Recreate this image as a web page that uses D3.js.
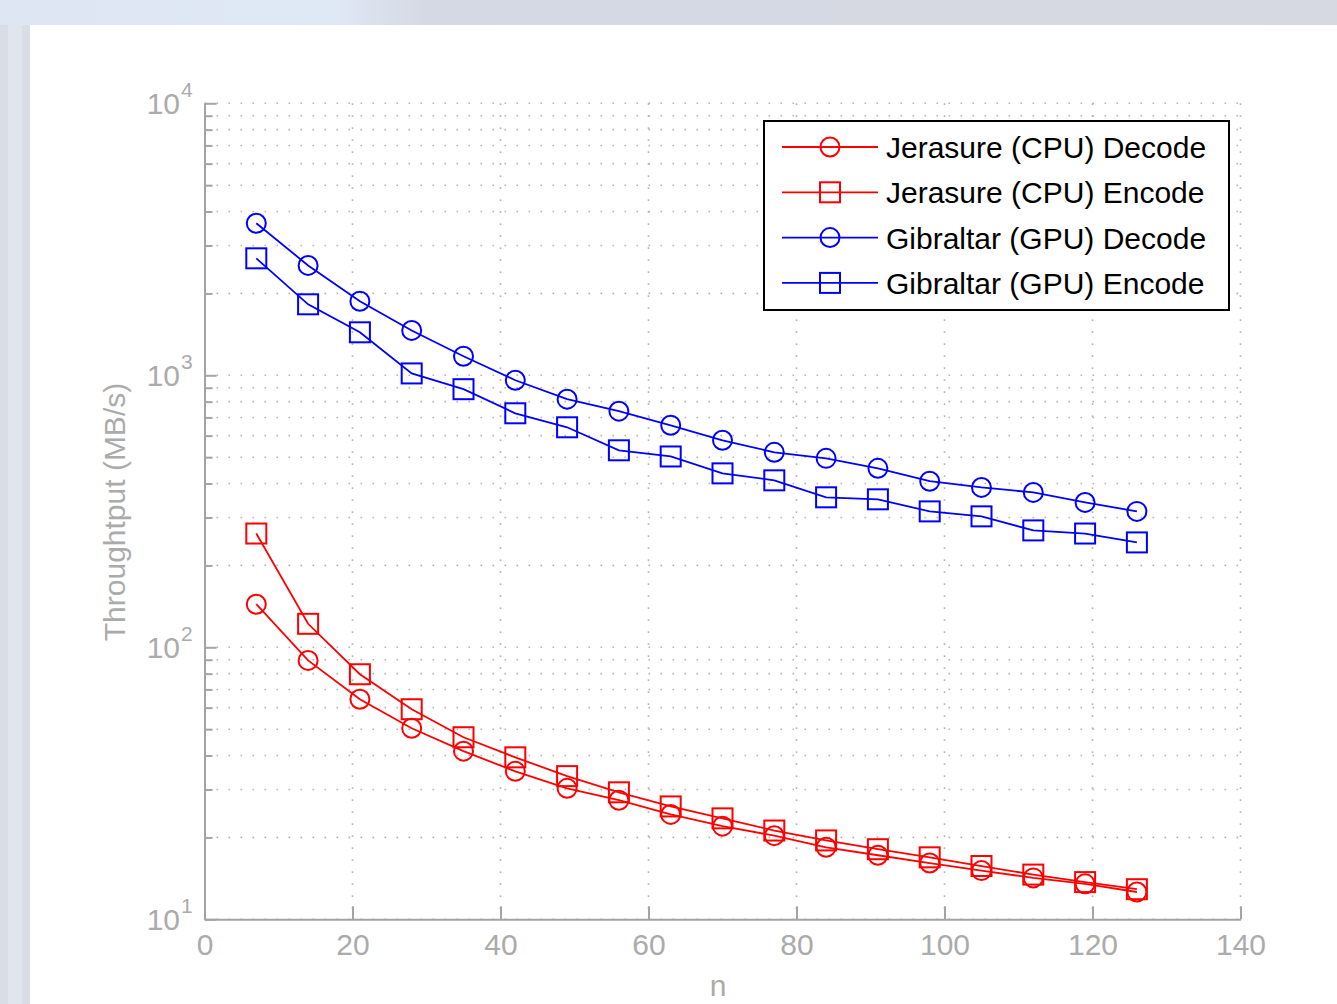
<!DOCTYPE html>
<meta charset="utf-8">
<script src="https://d3js.org/d3.v7.js"></script>
<style>
  body { margin: 0; background: #fff; }
  text { font-family: "Liberation Sans", Arial, sans-serif; }
</style>
<div id="my_dataviz"></div>
<script>

// data
const nValues = [7, 14, 21, 28, 35, 42, 49, 56, 63, 70, 77, 84, 91, 98, 105, 112, 119, 126];
const cpuDecode = [144, 89.5, 64.4, 50.4, 41.5, 35.0, 30.3, 27.4, 24.3, 22.0, 20.3, 18.4, 17.2, 16.1, 15.1, 14.2, 13.5, 12.6];
const cpuEncode = [262, 122, 79.6, 59.2, 46.7, 39.4, 33.6, 29.3, 26.0, 23.5, 21.2, 19.5, 18.1, 16.9, 15.7, 14.6, 13.7, 12.9];
const gpuDecode = [3622, 2535, 1871, 1462, 1175, 959, 817, 738, 655, 577, 521, 495, 455, 408, 387, 371, 341, 316];
const gpuEncode = [2692, 1824, 1439, 1016, 889, 725, 644, 530, 503, 436, 411, 356, 350, 316, 303, 269, 262, 243];
const seriesNames = ["Jerasure (CPU) Decode", "Jerasure (CPU) Encode", "Gibraltar (GPU) Decode", "Gibraltar (GPU) Encode"];
const xTicks = [0, 20, 40, 60, 80, 100, 120, 140];
const yMajor = [10, 100, 1000, 10000];
const yExp = ["1", "2", "3", "4"];

const series = [
  {name: seriesNames[0], values: cpuDecode, color: "#ff0000", marker: "circle"},
  {name: seriesNames[1], values: cpuEncode, color: "#ff0000", marker: "square"},
  {name: seriesNames[2], values: gpuDecode, color: "#0000ff", marker: "circle"},
  {name: seriesNames[3], values: gpuEncode, color: "#0000ff", marker: "square"}
];

const W = 1337, H = 1004;
const plot = {left: 204.5, right: 1240.5, top: 103.3, bottom: 919.3};
const axisColor = "#a4a4a4", labelColor = "#ababab", gridColor = "#b4b4b4";

const svg = d3.select("#my_dataviz")
  .append("svg")
    .attr("width", W)
    .attr("height", H);

// window backdrop around the figure
const defs = svg.append("defs");
const grad = defs.append("linearGradient").attr("id", "topband").attr("x1", 0).attr("x2", 1);
grad.append("stop").attr("offset", "0%").attr("stop-color", "#dde6f2");
grad.append("stop").attr("offset", "25%").attr("stop-color", "#dfe8f5");
grad.append("stop").attr("offset", "32%").attr("stop-color", "#d5d9e3");
grad.append("stop").attr("offset", "100%").attr("stop-color", "#d6d9e2");
svg.append("rect").attr("x", 0).attr("y", 0).attr("width", W).attr("height", 25).attr("fill", "url(#topband)");
svg.append("rect").attr("x", 0).attr("y", 25).attr("width", 30).attr("height", H - 25).attr("fill", "#d9dee6");
svg.append("rect").attr("x", 8).attr("y", 25).attr("width", 14).attr("height", H - 25).attr("fill", "#e1e6ee");

const x = d3.scaleLinear().domain([0, 140]).range([plot.left, plot.right]);
const y = d3.scaleLog().domain([10, 10000]).range([plot.bottom, plot.top]);

const yAll = y.ticks();
const yMinor = yAll.filter(v => !yMajor.includes(v));

// grid
const grid = svg.append("g")
  .attr("stroke", gridColor)
  .attr("stroke-width", 1.6)
  .attr("stroke-dasharray", "1.6,10.4");
grid.selectAll(".gy")
  .data(yAll)
  .join("line")
    .attr("x1", plot.left).attr("x2", plot.right)
    .attr("y1", d => y(d)).attr("y2", d => y(d));
grid.selectAll(".gx")
  .data(xTicks.slice(1))
  .join("line")
    .attr("x1", d => x(d)).attr("x2", d => x(d))
    .attr("y1", plot.top).attr("y2", plot.bottom);

// axes
const xAxis = svg.append("g")
  .attr("transform", `translate(0,${plot.bottom})`)
  .call(d3.axisBottom(x).tickValues(xTicks).tickSizeInner(-13).tickSizeOuter(0).tickPadding(14));
xAxis.select(".domain").attr("stroke", axisColor).attr("stroke-width", 2);
xAxis.selectAll(".tick line").attr("stroke", axisColor).attr("stroke-width", 2);
xAxis.selectAll(".tick text")
  .attr("fill", labelColor)
  .style("font-size", "30px")
  .style("font-family", "Liberation Sans, Arial, sans-serif");

const yAxisMajor = svg.append("g")
  .attr("transform", `translate(${plot.left},0)`)
  .call(d3.axisLeft(y).tickValues(yMajor).tickSizeInner(-12).tickSizeOuter(0).tickFormat(""));
yAxisMajor.select(".domain").attr("stroke", axisColor).attr("stroke-width", 2);
yAxisMajor.selectAll(".tick line").attr("stroke", axisColor).attr("stroke-width", 2);

const yAxisMinor = svg.append("g")
  .attr("transform", `translate(${plot.left},0)`)
  .call(d3.axisLeft(y).tickValues(yMinor).tickSizeInner(-8).tickSizeOuter(0).tickFormat(""));
yAxisMinor.select(".domain").remove();
yAxisMinor.selectAll(".tick line").attr("stroke", axisColor).attr("stroke-width", 2);

// 10^k labels
const yLab = svg.append("g").attr("fill", labelColor);
yLab.selectAll(".base")
  .data(yMajor)
  .join("text")
    .attr("x", 180)
    .attr("y", d => y(d) + 11)
    .attr("text-anchor", "end")
    .style("font-size", "30px")
    .text("10");
yLab.selectAll(".exp")
  .data(yMajor)
  .join("text")
    .attr("x", 181)
    .attr("y", d => y(d) - 6)
    .style("font-size", "21px")
    .text((d, i) => yExp[i]);

// axis titles
svg.append("text")
  .attr("x", 718)
  .attr("y", 996)
  .attr("text-anchor", "middle")
  .attr("fill", labelColor)
  .style("font-size", "30px")
  .text("n");
svg.append("text")
  .attr("transform", "translate(125,512) rotate(-90)")
  .attr("text-anchor", "middle")
  .attr("fill", labelColor)
  .style("font-size", "30px")
  .text("Throughtput (MB/s)");

// markers
function drawMarker(g, type, color, r) {
  if (type === "circle") {
    g.append("circle").attr("r", r).attr("fill", "none").attr("stroke", color).attr("stroke-width", 2);
  } else {
    g.append("rect").attr("x", -r - 0.5).attr("y", -r - 0.5).attr("width", 2 * r + 1).attr("height", 2 * r + 1)
      .attr("fill", "none").attr("stroke", color).attr("stroke-width", 2);
  }
}

const line = d3.line()
  .x((d, i) => x(nValues[i]))
  .y(d => y(d));

series.forEach(s => {
  svg.append("path")
    .datum(s.values)
    .attr("fill", "none")
    .attr("stroke", s.color)
    .attr("stroke-width", 1.8)
    .attr("d", line);
  svg.append("g").selectAll("g")
    .data(s.values)
    .join("g")
      .attr("transform", (d, i) => `translate(${x(nValues[i])},${y(d)})`)
      .each(function() { drawMarker(d3.select(this), s.marker, s.color, 9.5); });
});

// legend
const legend = svg.append("g");
legend.append("rect")
  .attr("x", 764).attr("y", 121)
  .attr("width", 465).attr("height", 189)
  .attr("fill", "#fff")
  .attr("stroke", "#000")
  .attr("stroke-width", 2);
const rows = legend.selectAll(".row")
  .data(series)
  .join("g")
    .attr("transform", (d, i) => `translate(0,${147 + i * 45.3})`);
rows.append("line")
  .attr("x1", 782).attr("x2", 878)
  .attr("stroke", d => d.color)
  .attr("stroke-width", 1.8);
rows.each(function(d) {
  const g = d3.select(this).append("g").attr("transform", "translate(830,0)");
  drawMarker(g, d.marker, d.color, 9.5);
});
rows.append("text")
  .attr("x", 886)
  .attr("y", 11)
  .attr("fill", "#000")
  .style("font-size", "30px")
  .text(d => d.name);

</script>
